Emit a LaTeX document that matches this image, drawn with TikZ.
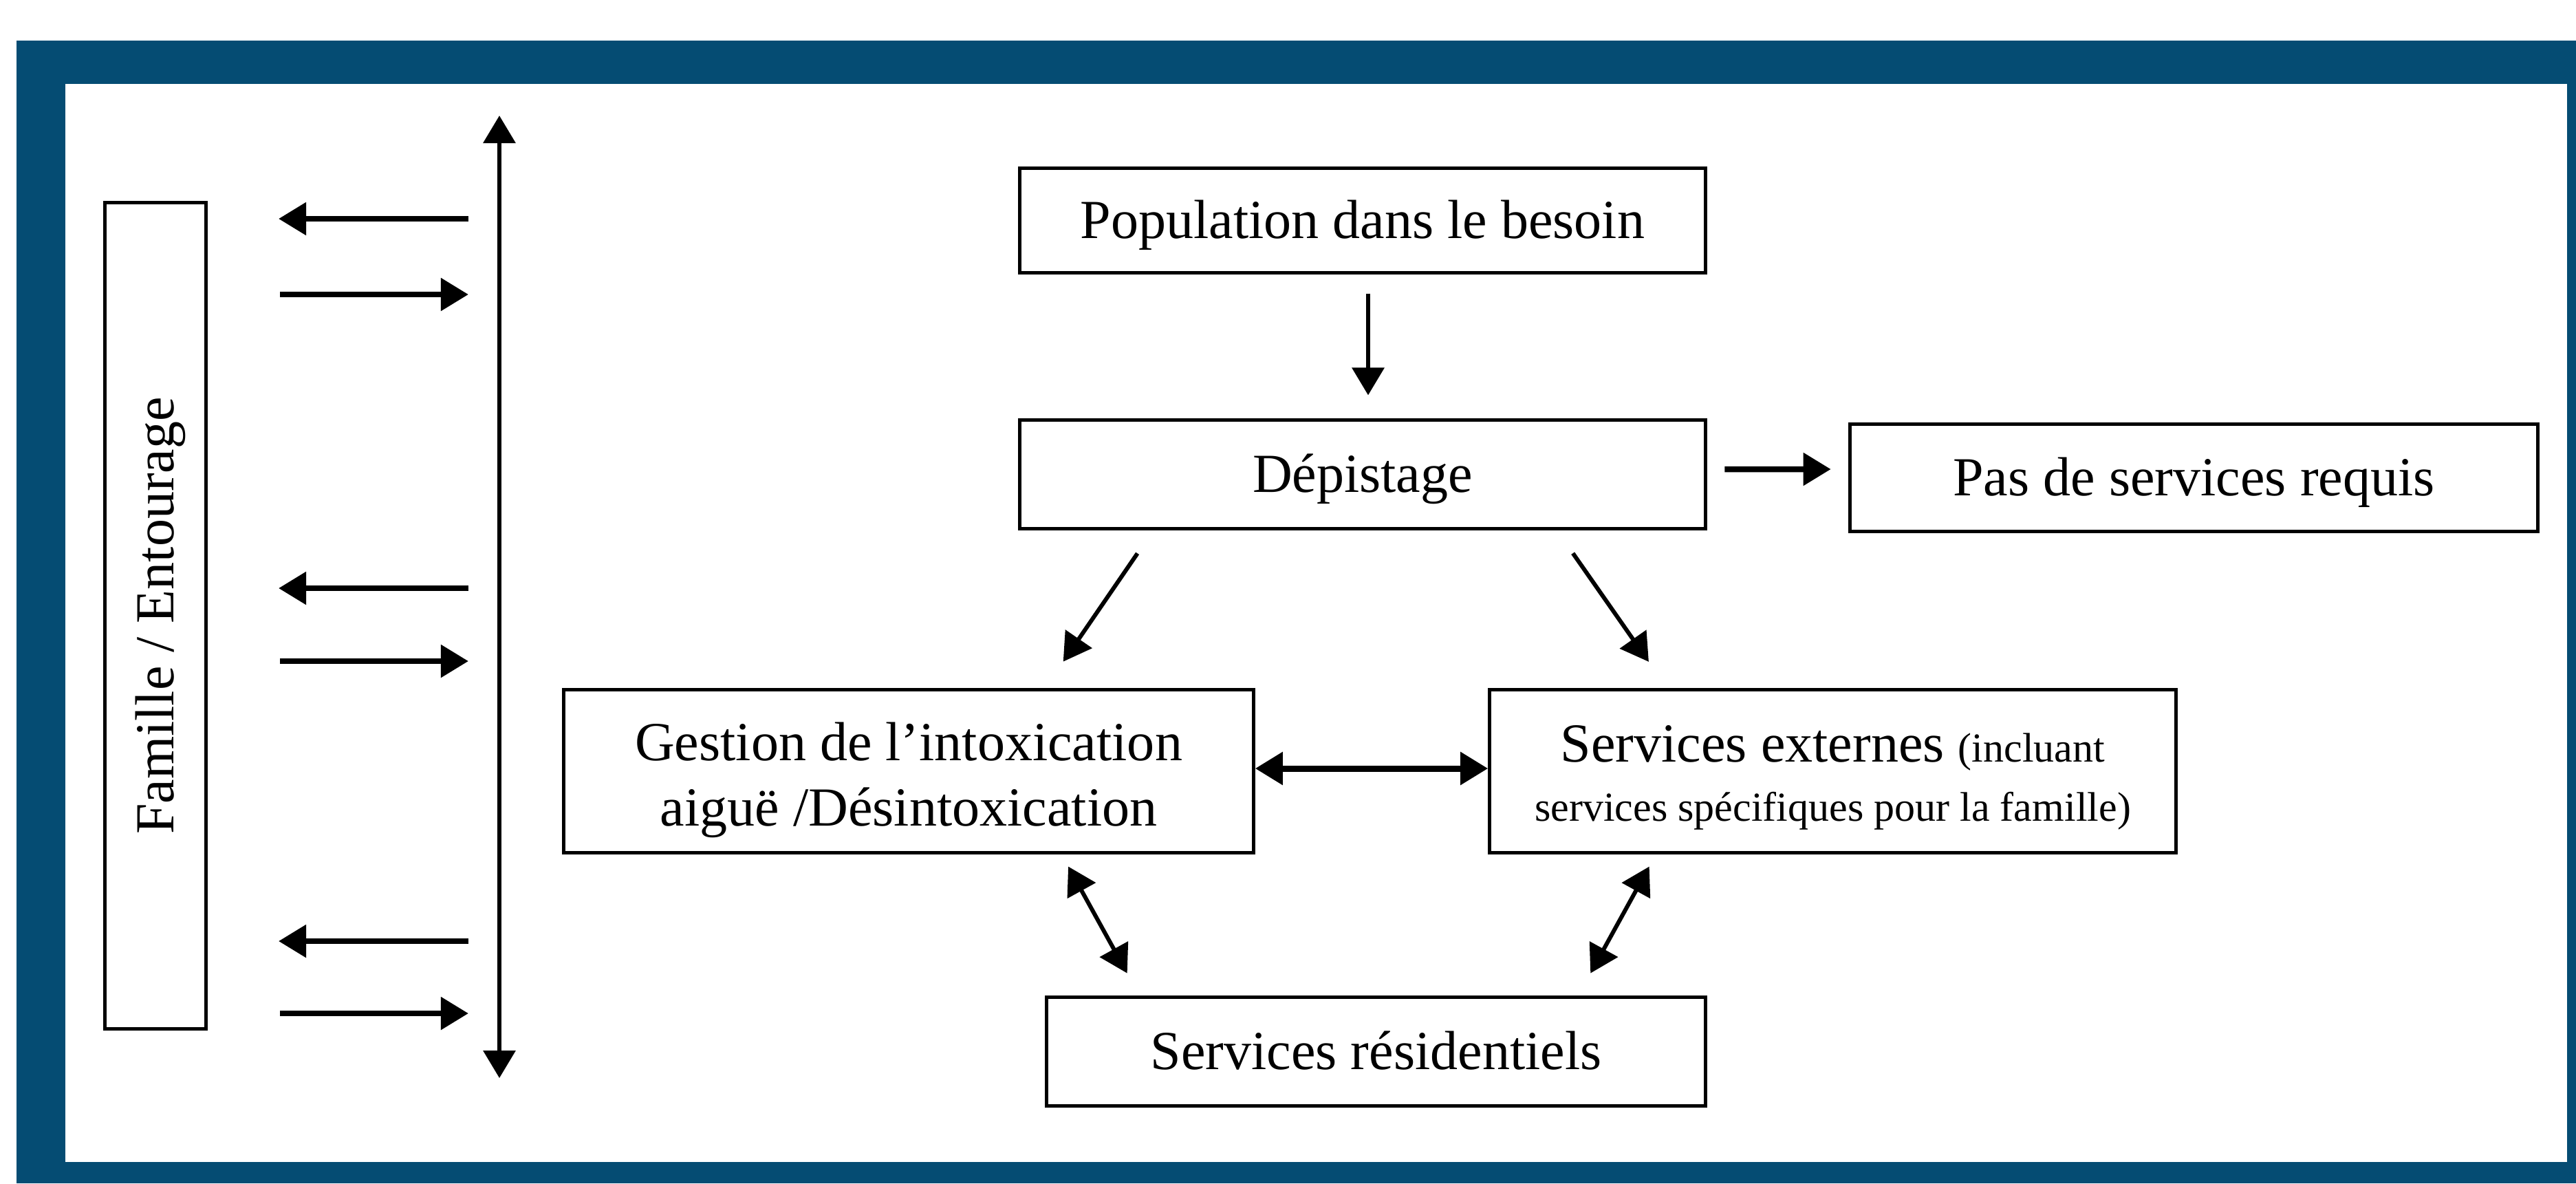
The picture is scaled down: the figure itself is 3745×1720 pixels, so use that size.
\documentclass[tikz,border=0pt]{standalone}
\usepackage{fontspec}
\setmainfont{Liberation Serif}
\usetikzlibrary{arrows.meta}
\definecolor{frameblue}{HTML}{054C73}
\newcommand\diagfont{\fontsize{22.76pt}{27pt}\selectfont}
\newcommand\diagsmall{\fontsize{17.07pt}{23.6pt}\selectfont}
\begin{document}
\begin{tikzpicture}[x=0.01cm, y=-0.01cm,
  box/.style={draw=black, line width=0.05cm, inner sep=0pt, text height=0.52cm, text depth=0cm, font=\diagfont},
  arr/.style={-{Triangle[length=0.4cm,width=0.46cm]}, line width=0.07cm},
  darr/.style={{Triangle[length=0.4cm,width=0.46cm]}-{Triangle[length=0.4cm,width=0.46cm]}, line width=0.07cm}]
\useasboundingbox (0,0) rectangle (3745,1720);
\fill[frameblue] (24,59) rectangle (3745,1720);
\fill[white] (95,122) rectangle (3732,1689);

\node[box, minimum width=9.96cm, minimum height=1.51cm] (pop) at (1981,320.5) {Population dans le besoin};
\node[box, minimum width=9.96cm, minimum height=1.57cm] (dep) at (1981,689.5) {Dépistage};
\node[box, minimum width=9.99cm, minimum height=1.55cm] (pas) at (3189.5,694.5) {Pas de services requis};
\node[box, minimum width=10.02cm, minimum height=2.36cm, align=center, text height=1.58cm, text depth=0cm] (gest) at (1321,1121) {Gestion de l’intoxication\\aiguë /Désintoxication};
\node[box, minimum width=9.97cm, minimum height=2.36cm, align=center, text height=1.44cm, text depth=0cm] (ext) at (2664.5,1121) {Services externes {\diagsmall(incluant}\\[-0.09cm]{\diagsmall services spécifiques pour la famille)}};
\node[box, minimum width=9.57cm, minimum height=1.57cm] (res) at (2000.5,1528.5) {Services résidentiels};
\node[box, minimum width=12cm, minimum height=1.46cm, rotate=90] (fam) at (226,895) {Famille / Entourage};

\draw[arr, line width=0.065cm, shorten <=0.28cm, shorten >=0.34cm] ([xshift=0.08cm]pop.south) -- ([xshift=0.08cm]dep.north);
\draw[arr, line width=0.085cm, shorten <=0.255cm, shorten >=0.255cm] ([yshift=0.075cm]dep.east) -- ([yshift=0.125cm]pas.west);
\draw[arr, line width=0.06cm, shorten <=0.41cm, shorten >=0.47cm] ([xshift=-3.04cm]dep.south) -- ([xshift=1.98cm]gest.north);
\draw[arr, line width=0.06cm, shorten <=0.41cm, shorten >=0.47cm] ([xshift=2.82cm]dep.south) -- ([xshift=-2.405cm]ext.north);
\draw[darr, line width=0.09cm] ([yshift=0.04cm]gest.east) -- ([yshift=0.04cm]ext.west);
\draw[darr, line width=0.06cm, shorten <=0.205cm, shorten >=0.375cm] ([xshift=2.22cm]gest.south) -- ([xshift=-3.435cm]res.north);
\draw[darr, line width=0.06cm, shorten <=0.205cm, shorten >=0.375cm] ([xshift=-2.568cm]ext.south) -- ([xshift=2.935cm]res.north);

\coordinate (vtop) at (726,168);
\coordinate (vbot) at (726,1567);
\draw[darr, line width=0.065cm] (vtop) -- (vbot);
\foreach \n/\y in {1/318,2/855,3/1368} {
  \coordinate (ls\n) at (681,\y);
  \coordinate (le\n) at (405,\y);
  \draw[arr, line width=0.085cm] (ls\n) -- (le\n);
}
\foreach \n/\y in {1/428,2/961,3/1473} {
  \coordinate (rs\n) at (407,\y);
  \coordinate (re\n) at (681,\y);
  \draw[arr, line width=0.085cm] (rs\n) -- (re\n);
}
\end{tikzpicture}
\end{document}
